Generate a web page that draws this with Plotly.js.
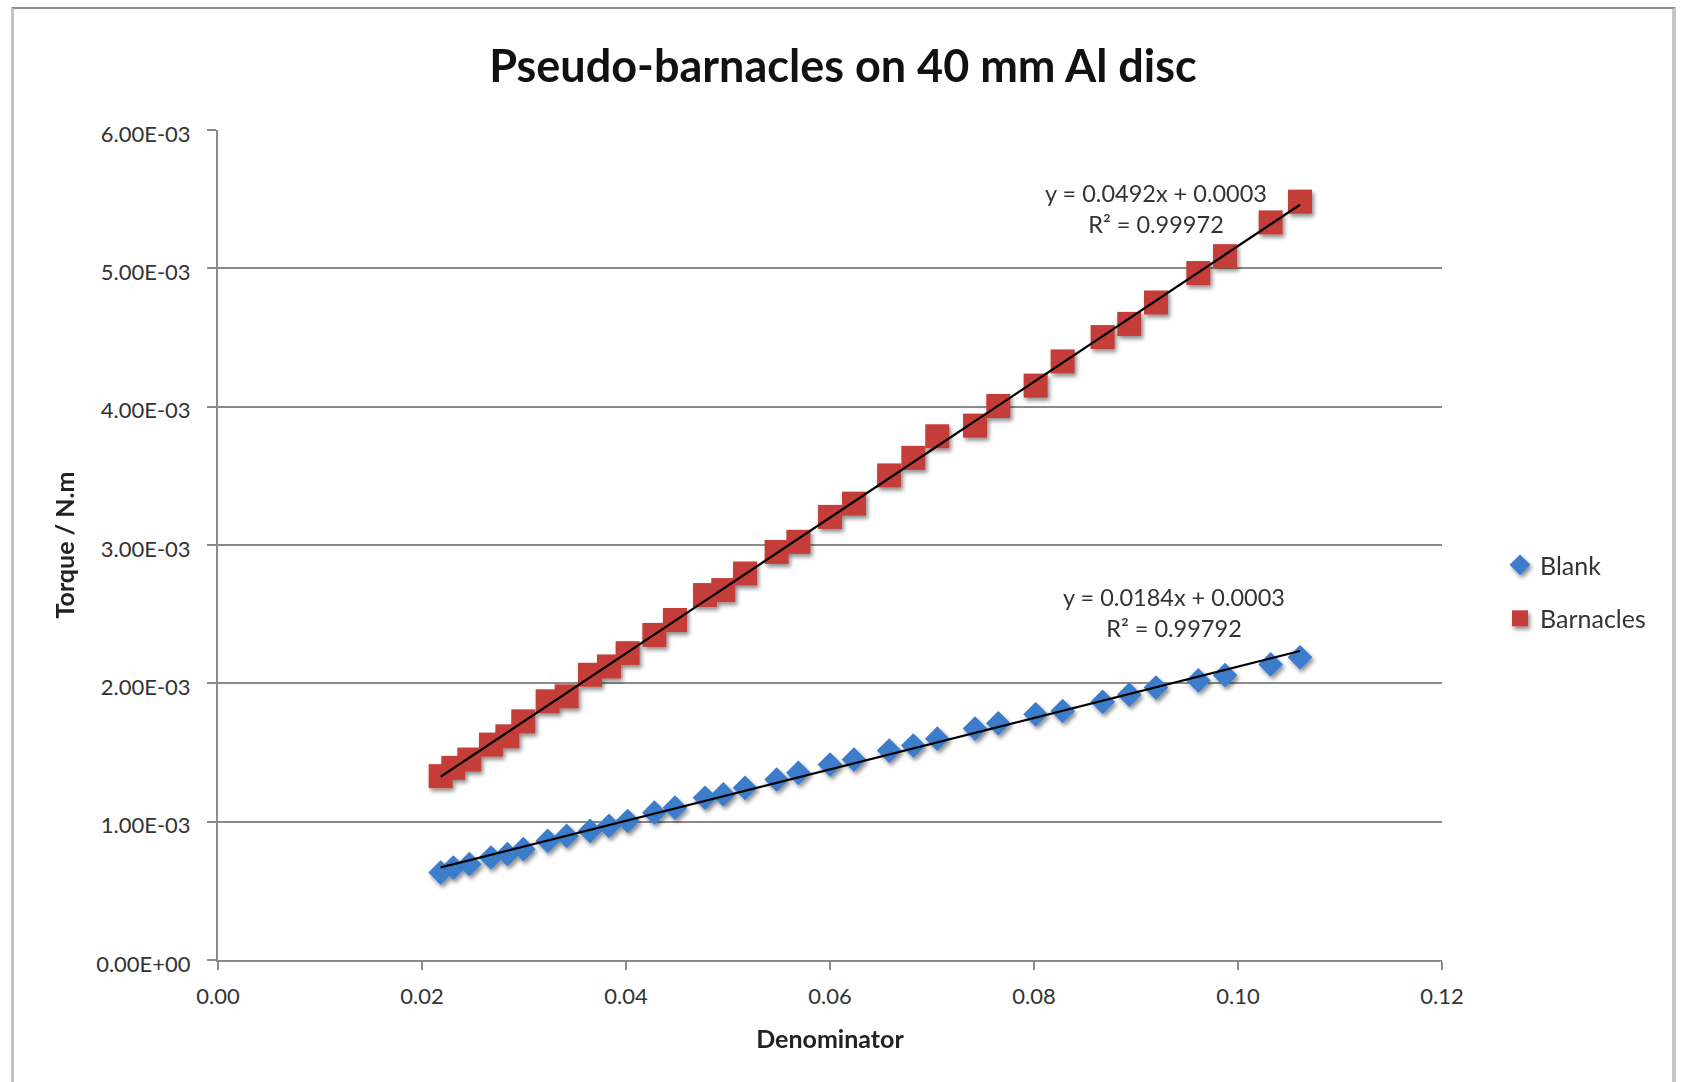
<!DOCTYPE html>
<html>
<head>
<meta charset="utf-8">
<script src="https://cdn.plot.ly/plotly-3.0.1.min.js"></script>
<style>
  html, body { margin: 0; padding: 0; background: #ffffff; overflow: hidden; }
  #chart { position: absolute; left: 0; top: 0; width: 1681px; height: 1082px; }
  #frame { position: absolute; left: 11px; top: 7px; width: 1658px; height: 1200px;
           border-top: 2px solid #8d8d8d; border-left: 3px solid #c3c3c3; border-right: 4px solid #c6c6c6;
           pointer-events: none; }
</style>
</head>
<body>
<svg width="0" height="0" style="position:absolute">
  <defs>
    <filter id="mshadow" x="-60%" y="-60%" width="220%" height="220%">
      <feGaussianBlur in="SourceAlpha" stdDeviation="2.2"/>
      <feOffset dx="1.5" dy="3" result="off"/>
      <feComponentTransfer><feFuncA type="linear" slope="0.45"/></feComponentTransfer>
      <feMerge><feMergeNode/><feMergeNode in="SourceGraphic"/></feMerge>
    </filter>
  </defs>
</svg>
<div id="chart"></div>
<div id="frame"></div>
<script>
// ---- data ----
const denominator = [0.02183, 0.02307, 0.02464, 0.02676, 0.02837, 0.02993, 0.03232, 0.03418, 0.03647, 0.03833,
                     0.04016, 0.04278, 0.04480, 0.04775, 0.04954, 0.05167, 0.05477, 0.05690, 0.06000, 0.06235,
                     0.06580, 0.06817, 0.07052, 0.07422, 0.07650, 0.08016, 0.08281, 0.08673, 0.08934, 0.09196,
                     0.09611, 0.09873, 0.10320, 0.10608];
const blankTorque = [6.32e-4, 6.68e-4, 6.93e-4, 7.41e-4, 7.65e-4, 8.01e-4, 8.61e-4, 8.97e-4, 9.33e-4, 9.69e-4,
                     1.005e-3, 1.065e-3, 1.101e-3, 1.173e-3, 1.197e-3, 1.245e-3, 1.305e-3, 1.353e-3, 1.413e-3, 1.449e-3,
                     1.514e-3, 1.550e-3, 1.600e-3, 1.673e-3, 1.711e-3, 1.776e-3, 1.800e-3, 1.866e-3, 1.918e-3, 1.969e-3,
                     2.021e-3, 2.059e-3, 2.137e-3, 2.188e-3];
const barnaclesTorque = [1.329e-3, 1.389e-3, 1.449e-3, 1.557e-3, 1.617e-3, 1.725e-3, 1.870e-3, 1.906e-3, 2.062e-3, 2.122e-3,
                     2.218e-3, 2.350e-3, 2.458e-3, 2.638e-3, 2.674e-3, 2.794e-3, 2.950e-3, 3.023e-3, 3.203e-3, 3.299e-3,
                     3.503e-3, 3.630e-3, 3.786e-3, 3.863e-3, 4.005e-3, 4.152e-3, 4.327e-3, 4.503e-3, 4.598e-3, 4.753e-3,
                     4.966e-3, 5.088e-3, 5.332e-3, 5.482e-3];
const seriesNames = ['Blank', 'Barnacles'];
const blankEquation = ['y = 0.0184x + 0.0003', 'R² = 0.99792'];
const barnaclesEquation = ['y = 0.0492x + 0.0003', 'R² = 0.99972'];
const yTickVals = [0, 0.001, 0.002, 0.003, 0.004, 0.005, 0.006];
const yTickText = ['0.00E+00', '1.00E-03', '2.00E-03', '3.00E-03', '4.00E-03', '5.00E-03', '6.00E-03'];
const xTickVals = [0, 0.02, 0.04, 0.06, 0.08, 0.10, 0.12];
const xTickText = ['0.00', '0.02', '0.04', '0.06', '0.08', '0.10', '0.12'];

// least-squares linear trendline from the data
function fit(xs, ys) {
  const n = xs.length;
  let sx = 0, sy = 0, sxx = 0, sxy = 0;
  for (let i = 0; i < n; i++) { sx += xs[i]; sy += ys[i]; sxx += xs[i]*xs[i]; sxy += xs[i]*ys[i]; }
  const m = (n*sxy - sx*sy) / (n*sxx - sx*sx);
  const b = (sy - m*sx) / n;
  const x0 = Math.min(...xs), x1 = Math.max(...xs);
  return { x: [x0, x1], y: [m*x0 + b, m*x1 + b] };
}
const blankFit = fit(denominator, blankTorque);
const barnFit = fit(denominator, barnaclesTorque);

const FONT = 'Lato, "Open Sans", sans-serif';
const BLUE = '#3b7bcb';
const RED = '#c43c37';

const traces = [
  { type: 'scatter', mode: 'markers', name: seriesNames[0], legendgroup: 'a',
    x: denominator, y: blankTorque,
    marker: { symbol: 'diamond', size: 19, color: BLUE, line: { width: 0 } } },
  { type: 'scatter', mode: 'markers', name: seriesNames[1], legendgroup: 'b',
    x: denominator, y: barnaclesTorque,
    marker: { symbol: 'square', size: 24, color: RED, line: { width: 0 } } },
  { type: 'scatter', mode: 'lines', showlegend: false, hoverinfo: 'skip',
    x: blankFit.x, y: blankFit.y, line: { color: '#000000', width: 2.2 } },
  { type: 'scatter', mode: 'lines', showlegend: false, hoverinfo: 'skip',
    x: barnFit.x, y: barnFit.y, line: { color: '#000000', width: 2.2 } }
];

const axisColor = '#8a8a8a';
const layout = {
  width: 1681, height: 1082,
  paper_bgcolor: '#ffffff', plot_bgcolor: '#ffffff',
  margin: { l: 218, r: 239, t: 129.5, b: 121.5, pad: 0 },
  font: { family: FONT, color: '#333333' },
  title: { text: '<b>Pseudo-barnacles on 40 mm Al disc</b>', font: { family: FONT, size: 45, color: '#111111' },
           x: 0.5106, xref: 'paper', xanchor: 'center', y: 1 - 66/1082, yref: 'container', yanchor: 'middle' },
  xaxis: {
    range: [0, 0.12], tickvals: xTickVals, ticktext: xTickText,
    showgrid: false, zeroline: false, showline: true, linecolor: axisColor, linewidth: 2,
    ticks: 'outside', ticklen: 8, tickwidth: 2, tickcolor: axisColor, ticklabelstandoff: 8,
    tickfont: { family: FONT, size: 22, color: '#333333' },
    title: { text: '<b>Denominator</b>', font: { family: FONT, size: 25, color: '#222222' }, standoff: 22 }
  },
  yaxis: {
    range: [0, 0.006], tickvals: yTickVals, ticktext: yTickText,
    showgrid: true, gridcolor: axisColor, gridwidth: 2, zeroline: false,
    showline: true, linecolor: axisColor, linewidth: 2,
    ticks: 'outside', ticklen: 9, tickwidth: 2, tickcolor: axisColor, ticklabelstandoff: 12,
    ticklabelshift: 4,
    tickfont: { family: FONT, size: 22, color: '#333333' },
    title: { text: '<b>Torque / N.m</b>', font: { family: FONT, size: 25, color: '#222222' }, standoff: 14 }
  },
  showlegend: true,
  legend: { x: 1.0474, xanchor: 'left', y: 0.5035, yanchor: 'top', tracegroupgap: 18,
            font: { family: FONT, size: 25, color: '#333333' }, bgcolor: 'rgba(0,0,0,0)', borderwidth: 0 },
  annotations: [
    { x: 0.09196, y: 0.00543, xref: 'x', yref: 'y', text: barnaclesEquation.join('<br>'), showarrow: false,
      align: 'center', xanchor: 'center', yanchor: 'middle', font: { family: FONT, size: 23.5, color: '#333333' } },
    { x: 0.09373, y: 0.002511, xref: 'x', yref: 'y', text: blankEquation.join('<br>'), showarrow: false,
      align: 'center', xanchor: 'center', yanchor: 'middle', font: { family: FONT, size: 23.5, color: '#333333' } }
  ]
};

Plotly.newPlot('chart', traces, layout, { displayModeBar: false, staticPlot: true }).then(function () {
  document.querySelectorAll('.scatterlayer .trace .points, .legend .legendpoints').forEach(function (g) {
    g.setAttribute('filter', 'url(#mshadow)');
  });
});
</script>
</body>
</html>
